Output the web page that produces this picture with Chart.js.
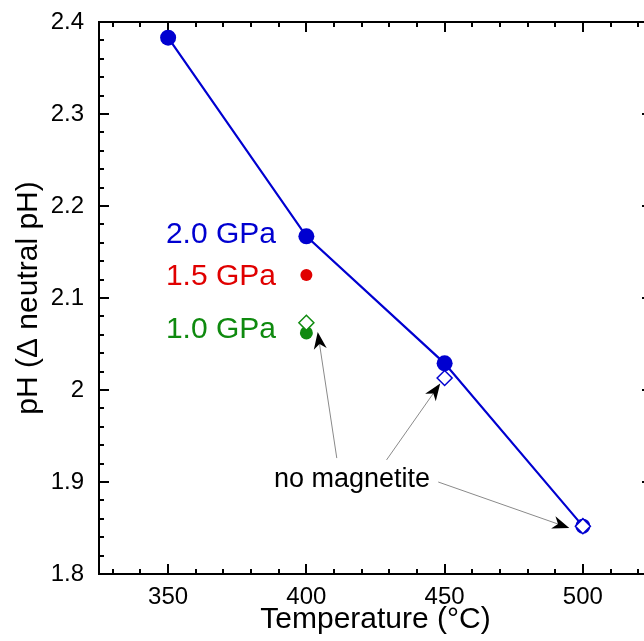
<!DOCTYPE html>
<html>
<head>
<meta charset="utf-8">
<script src="https://cdn.jsdelivr.net/npm/chart.js@4/dist/chart.umd.min.js"></script>
<style>
  html, body { margin: 0; padding: 0; background: #fff; overflow: hidden; }
  #wrap { position: relative; width: 662px; height: 641px; }
</style>
</head>
<body>
<div id="wrap"><canvas id="myChart"></canvas></div>
<script>
// values
const temps2GPa = [350, 400, 450, 500]
const ph2GPa = [2.383, 2.167, 2.029, 1.852]
const tempsFilled2GPa = [350, 400, 450]
const phFilled2GPa = [2.383, 2.167, 2.029]
const temp15GPa = [400]
const ph15GPa = [2.125]
const temp10GPa = [400]
const ph10GPa = [2.062]
// open symbols = runs without magnetite
const tempsNoMag = [400, 450, 500]
const phNoMag = [2.073, 2.013, 1.852]
const colorsNoMag = ["#0f8a0f", "#0000d0", "#0000d0"]
const tempCircleNoMag = [500]
const phCircleNoMag = [1.852]

const xTicks = [350, 400, 450, 500]
const yTicks = [1.8, 1.9, 2.0, 2.1, 2.2, 2.3, 2.4]

const pressureLabels = ["2.0 GPa", "1.5 GPa", "1.0 GPa"]
const pressureColors = ["#0000d0", "#e00000", "#0f8a0f"]
const pressureLabelY = [2.160, 2.114, 2.0565]
const noteText = "no magnetite"

// annotation anchors (text baselines, arrow ends), in data units
const noteAnchor = { x: 416.5, y: 1.8946 }
const arrowFrom = [[411, 1.926], [429, 1.924], [447.7, 1.9]]
const arrowTo = [[404.1, 2.063], [448.4, 2.007], [495.1, 1.85]]
const pressureLabelRight = 389

const BLUE = "#0000d0"
const FONT = "'Liberation Sans', Arial, sans-serif"

const pts = (xs, ys) => xs.map((x, i) => ({ x: x, y: ys[i] }))

const frameAndTicks = {
  id: "frameAndTicks",
  beforeDatasetsDraw(chart) {
    const { ctx, chartArea: a, scales: { x, y } } = chart
    ctx.save()
    ctx.strokeStyle = "#000"
    ctx.lineWidth = 2
    ctx.strokeRect(a.left, a.top, a.right - a.left, a.bottom - a.top)
    ctx.beginPath()
    for (let v = 330; v <= 520; v += 10) {
      const px = Math.round(x.getPixelForValue(v))
      const len = v % 50 === 0 ? 10 : 5
      ctx.moveTo(px, a.bottom); ctx.lineTo(px, a.bottom - len)
      ctx.moveTo(px, a.top); ctx.lineTo(px, a.top + len)
    }
    for (let i = 0; i <= 30; i++) {
      const v = 1.8 + i * 0.02
      const py = Math.round(y.getPixelForValue(v))
      const len = i % 5 === 0 ? 10 : 5
      ctx.moveTo(a.left, py); ctx.lineTo(a.left + len, py)
      ctx.moveTo(a.right, py); ctx.lineTo(a.right - len, py)
    }
    ctx.stroke()
    ctx.restore()
  },
  afterDatasetsDraw(chart) {
    const { ctx, scales: { x, y } } = chart
    ctx.save()
    // pressure labels
    ctx.font = "30px " + FONT
    ctx.textAlign = "right"
    ctx.textBaseline = "alphabetic"
    pressureLabels.forEach((t, i) => {
      ctx.fillStyle = pressureColors[i]
      ctx.fillText(t, x.getPixelForValue(pressureLabelRight), y.getPixelForValue(pressureLabelY[i]))
    })
    ctx.fillStyle = "#000"
    ctx.font = "27px " + FONT
    ctx.textAlign = "center"
    ctx.fillText(noteText, x.getPixelForValue(noteAnchor.x), y.getPixelForValue(noteAnchor.y))

    // arrows
    arrowFrom.forEach((f, i) => {
      const x0 = x.getPixelForValue(f[0]), y0 = y.getPixelForValue(f[1])
      const x1 = x.getPixelForValue(arrowTo[i][0]), y1 = y.getPixelForValue(arrowTo[i][1])
      const ang = Math.atan2(y1 - y0, x1 - x0)
      const L = 17, W = 6.5, notch = 5
      ctx.strokeStyle = "#8a8a8a"
      ctx.lineWidth = 1
      ctx.beginPath()
      ctx.moveTo(x0, y0)
      ctx.lineTo(x1 - Math.cos(ang) * (L - notch), y1 - Math.sin(ang) * (L - notch))
      ctx.stroke()
      ctx.save()
      ctx.translate(x1, y1)
      ctx.rotate(ang)
      ctx.fillStyle = "#000"
      ctx.beginPath()
      ctx.moveTo(0, 0)
      ctx.lineTo(-L, -W)
      ctx.lineTo(-L + notch, 0)
      ctx.lineTo(-L, W)
      ctx.closePath()
      ctx.fill()
      ctx.restore()
    })
    ctx.restore()
  }
}

new Chart(document.getElementById("myChart"), {
  type: "scatter",
  data: {
    datasets: [
      {
        label: "2.0 GPa line",
        data: pts(temps2GPa, ph2GPa),
        showLine: true,
        borderColor: BLUE,
        borderWidth: 2.2,
        pointRadius: 0,
        order: 10
      },
      {
        label: "2.0 GPa",
        data: pts(tempsFilled2GPa, phFilled2GPa),
        backgroundColor: BLUE,
        borderWidth: 0,
        pointRadius: 8,
        order: 5
      },
      {
        label: "1.5 GPa",
        data: pts(temp15GPa, ph15GPa),
        backgroundColor: "#e00000",
        borderWidth: 0,
        pointRadius: 6,
        order: 5
      },
      {
        label: "1.0 GPa",
        data: pts(temp10GPa, ph10GPa),
        backgroundColor: "#0f8a0f",
        borderWidth: 0,
        pointRadius: 6.5,
        order: 5
      },
      {
        label: "no magnetite circle",
        data: pts(tempCircleNoMag, phCircleNoMag),
        backgroundColor: "#fff",
        borderColor: BLUE,
        borderWidth: 2,
        pointRadius: 6.5,
        order: 2
      },
      {
        label: "no magnetite",
        data: pts(tempsNoMag, phNoMag),
        pointStyle: "rectRot",
        backgroundColor: "#fff",
        borderColor: colorsNoMag,
        borderWidth: 1.5,
        pointRadius: 7.5,
        order: 1
      }
    ]
  },
  options: {
    responsive: true,
    maintainAspectRatio: false,
    animation: false,
    devicePixelRatio: 1,
    layout: { padding: { top: 22, right: 10, left: 0, bottom: 0 } },
    plugins: { legend: { display: false }, tooltip: { enabled: false } },
    scales: {
      x: {
        type: "linear",
        min: 325,
        max: 525,
        grid: { display: false },
        border: { display: false },
        afterBuildTicks: (s) => { s.ticks = xTicks.map((v) => ({ value: v })) },
        afterFit: (s) => { s.height = 67 },
        ticks: { color: "#000", padding: 1, font: { family: FONT, size: 24 } },
        title: {
          display: true,
          text: "Temperature (°C)",
          color: "#000",
          padding: { top: 0, bottom: 3 },
          font: { family: FONT, size: 30 }
        }
      },
      y: {
        type: "linear",
        min: 1.8,
        max: 2.4,
        grid: { display: false },
        border: { display: false },
        afterBuildTicks: (s) => { s.ticks = yTicks.map((v) => ({ value: v })) },
        afterFit: (s) => { s.width = 99 },
        ticks: {
          color: "#000",
          padding: 7,
          font: { family: FONT, size: 24 },
          callback: (v) => String(parseFloat(v.toFixed(1)))
        },
        title: {
          display: true,
          text: "pH (Δ neutral pH)",
          color: "#000",
          padding: { top: 11, bottom: 0 },
          font: { family: FONT, size: 30 }
        }
      }
    }
  },
  plugins: [frameAndTicks]
})
</script>
</body>
</html>
